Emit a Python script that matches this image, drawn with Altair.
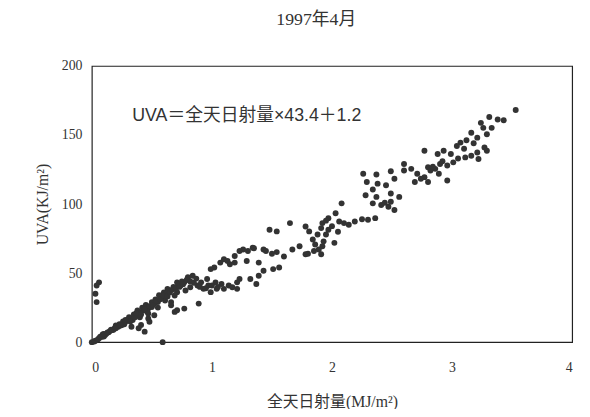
import altair as alt
import pandas as pd

title_text = "1997年4月"
x_title = "全天日射量(MJ/m²)"
y_title = "UVA(KJ/m²)"
equation = "UVA＝全天日射量×43.4＋1.2"
x_ticks = [0, 1, 2, 3, 4]
y_ticks = [0, 50, 100, 150, 200]

radiation = [
    3.53, 3.43, 3.38, 3.31, 3.24, 3.26, 3.33, 3.16, 3.21, 3.29, 3.12, 3.07, 3.04, 3.27, 3.29, 3.21,
    3.16, 3.11, 3.22, 2.99, 2.93, 2.88, 2.77, 3.01, 2.96, 2.90, 2.86, 2.89, 2.80, 2.77, 2.71, 2.66,
    2.60, 2.69, 2.80, 2.96, 2.60, 2.74, 2.82, 2.26, 2.37, 2.49, 2.29, 2.38, 2.52, 2.45, 2.34, 2.28,
    2.37, 2.49, 2.56, 2.34, 2.41, 2.47, 2.52, 2.44, 2.49, 2.36, 2.30, 2.25, 2.19, 2.14, 2.10, 2.06,
    1.97, 2.03, 2.08, 1.92, 1.91, 1.95, 1.97, 2.02, 1.92, 1.89, 1.86, 1.91, 1.84, 1.81, 1.78, 1.78,
    1.73, 1.67, 1.65, 1.54, 1.48, 1.56, 1.51, 1.43, 1.39, 1.32, 1.37, 1.30, 1.26, 1.23, 1.34, 1.43,
    1.54, 1.19, 1.13, 1.15, 1.19, 1.07, 1.10, 1.02, 0.99, 1.29, 1.39, 1.23, 1.21, 1.14, 1.10, 1.04,
    0.99, 0.93, 0.88, 0.89, 0.84, 0.80, 0.77, 0.74, 0.78, 0.71, 0.69, 0.66, 0.61, 0.58, 0.55, 0.52,
    0.50, 0.47, 0.43, 0.39, 0.36, 0.33, 0.30, 0.28, 0.25, 0.22, 0.19, 0.17, 0.14, 0.11, 0.08, 0.06,
    0.03, 0.00, 0.02, 0.69, 0.71, 0.77, 0.66, 0.52, 0.47, 0.48, 0.41, 0.44, 0.39, 0.33, 0.59, 0.06,
    0.04, 0.03, 0.04, 0.47, 0.91, 0.96, 0.97, 1.03, 1.08, 1.17, 1.21, 0.71, 0.82, 0.63, 0.61,
    0.12, 0.15, 0.20, 0.23, 0.26, 0.31, 0.35, 0.38, 0.42, 0.45, 0.50, 0.53, 0.56, 0.60, 0.64, 0.68,
    0.72, 0.75, 0.80, 0.10, 0.09, 0.18, 0.27, 0.34, 0.40, 0.46, 0.55, 0.62,
    1.35, 1.45, 1.50, 1.60, 1.80, 1.85, 1.95, 2.00, 2.05, 1.88, 1.93, 3.10, 3.18, 3.05, 2.92, 2.84,
    0.05, 0.07, 0.10, 0.13, 0.16, 0.20, 0.24, 0.28, 0.32, 0.36, 0.37, 0.41, 0.44, 0.48, 0.51, 0.54,
    0.57, 0.59, 0.63, 0.65, 0.67, 0.70, 0.73, 0.76, 0.79, 0.82, 0.85, 0.87, 0.90, 0.95, 1.00, 1.05,
]
uva = [
    168.1, 160.7, 161.2, 163.1, 158.8, 155.2, 155.2, 151.7, 148.1, 150.5, 146.2, 144.5, 142.1, 141.0, 138.6, 137.4,
    135.0, 133.8, 132.6, 136.2, 138.6, 136.2, 138.6, 130.2, 127.9, 129.0, 125.5, 121.9, 126.7, 119.5, 121.9, 125.5,
    129.0, 116.0, 116.0, 117.1, 124.3, 118.3, 124.3, 121.9, 121.4, 123.8, 116.0, 114.8, 118.3, 113.6, 110.5, 106.4,
    105.2, 107.6, 105.2, 100.5, 99.3, 98.1, 95.7, 101.0, 101.7, 89.8, 88.6, 89.0, 87.4, 85.0, 86.2, 87.4,
    89.8, 93.3, 100.5, 86.2, 82.6, 77.9, 81.4, 71.9, 69.5, 67.1, 70.7, 63.6, 74.3, 80.2, 83.8, 63.6,
    69.5, 67.1, 86.2, 80.2, 81.4, 54.0, 52.9, 51.7, 48.1, 45.7, 42.1, 66.0, 67.1, 66.0, 68.3, 67.1,
    65.2, 62.4, 58.8, 56.4, 57.6, 57.6, 60.0, 54.0, 52.9, 58.8, 57.6, 45.7, 43.3, 41.0, 38.6, 38.6,
    36.2, 38.6, 41.0, 27.9, 48.1, 45.7, 43.3, 41.0, 37.4, 36.2, 33.8, 29.0, 33.8, 32.6, 29.0, 27.9,
    25.5, 24.3, 23.1, 21.9, 19.5, 17.1, 16.0, 14.8, 12.4, 11.2, 10.0, 8.8, 7.1, 5.2, 3.8, 2.9,
    1.0, 0.0, 0.5, 21.9, 23.1, 24.3, 26.7, 19.5, 17.1, 14.8, 12.4, 7.6, 10.0, 11.2, 0.0, 43.3,
    41.0, 35.0, 29.0, 20.7, 43.3, 45.7, 41.0, 43.3, 42.1, 39.8, 38.6, 43.3, 39.8, 38.6, 30.2,
    6.0, 8.0, 12.0, 13.0, 15.0, 18.0, 20.0, 23.0, 25.0, 27.0, 29.0, 31.0, 34.0, 36.0, 37.0, 40.0,
    42.0, 44.0, 47.0, 4.0, 5.5, 9.0, 13.0, 16.0, 18.0, 22.0, 25.0, 35.0,
    68.0, 66.0, 64.0, 62.0, 64.0, 66.0, 88.0, 84.0, 80.0, 78.0, 73.0, 140.0, 144.0, 133.0, 131.0, 127.0,
    2.0, 4.0, 6.0, 7.0, 9.0, 10.0, 12.0, 16.0, 15.0, 18.0, 21.0, 20.0, 24.0, 26.0, 27.0, 30.0,
    31.0, 34.0, 33.0, 36.0, 38.0, 39.0, 40.0, 42.0, 45.0, 44.0, 43.0, 46.0, 40.0, 39.0, 41.0, 40.0,
]

df = pd.DataFrame({"radiation": radiation, "uva": uva})

FONT = "Liberation Serif, Noto Sans CJK SC"
EQ_FONT = "Liberation Sans, Noto Sans CJK SC"
INK = "#333333"

points = alt.Chart(df).mark_circle(size=36, color=INK, opacity=1).encode(
    x=alt.X("radiation:Q", title=x_title,
            scale=alt.Scale(domain=[0, 4], nice=False),
            axis=alt.Axis(values=x_ticks, format="d", grid=False, ticks=False, domain=False,
                          labelPadding=19, titlePadding=19, titleFontSize=16)),
    y=alt.Y("uva:Q", title=y_title,
            scale=alt.Scale(domain=[0, 200], nice=False),
            axis=alt.Axis(values=y_ticks, format="d", grid=False, ticks=False, domain=False,
                          labelPadding=10, titlePadding=11, titleFontSize=16)),
)

label = alt.Chart(pd.DataFrame({"t": [equation]})).mark_text(
    align="left", baseline="middle", font=EQ_FONT, fontSize=18, color=INK
).encode(text="t:N", x=alt.value(41), y=alt.value(51))

chart = alt.layer(points, label).properties(
    width=487, height=280,
    title=alt.TitleParams(title_text, font=FONT, fontSize=18, fontWeight="normal",
                          color=INK, anchor="middle", dx=-16, offset=31),
    autosize=alt.AutoSizeParams(type="none"),
    padding={"left": 85, "top": 56, "right": 10, "bottom": 65},
).configure_view(stroke="#222222", strokeWidth=1.2).configure_axis(
    labelFont=FONT, titleFont=FONT, labelFontSize=14,
    labelColor=INK, titleColor=INK, titleFontWeight="normal",
)

chart.save("out.html", embed_options={"renderer": "svg", "actions": False})
